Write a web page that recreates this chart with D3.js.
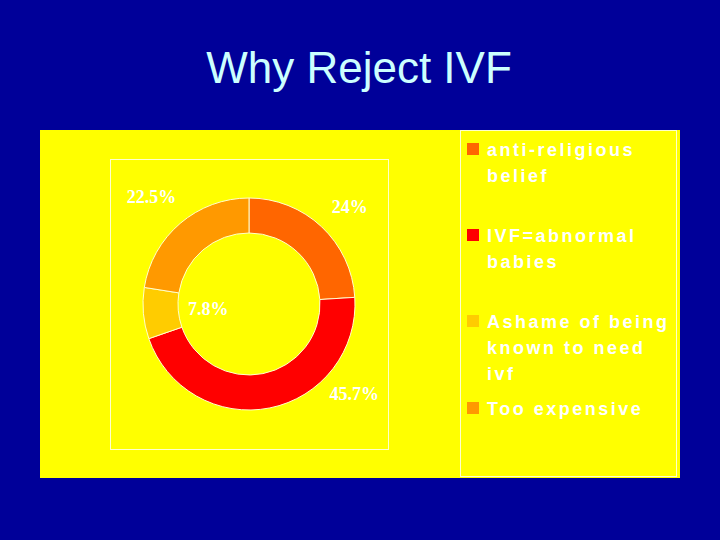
<!DOCTYPE html>
<html>
<head>
<meta charset="utf-8">
<script src="https://cdn.jsdelivr.net/npm/d3@7"></script>
<style>
  body { margin: 0; background: #000099; }
</style>
</head>
<body>
<script>
const categories = ['anti-religious belief', 'IVF=abnormal babies', 'Ashame of being known to need ivf', 'Too expensive'];
const values = [24, 45.7, 7.8, 22.5];
const valueLabels = ['24%', '45.7%', '7.8%', '22.5%'];
const legendLines = [['anti-religious', 'belief'], ['IVF=abnormal', 'babies'], ['Ashame of being', 'known to need', 'ivf'], ['Too expensive']];
const colors = ['#ff6600', '#ff0000', '#ffcc00', '#ff9900'];

const width = 720;
const height = 540;

const svg = d3.select('body')
    .append('svg')
    .attr('width', width)
    .attr('height', height)
    .style('display', 'block');

svg.append('rect')
    .attr('width', width)
    .attr('height', height)
    .attr('fill', '#000099');

svg.append('text')
    .attr('x', 359)
    .attr('y', 83)
    .attr('text-anchor', 'middle')
    .style('font-family', 'Arial, "Liberation Sans", sans-serif')
    .style('font-size', '44px')
    .style('fill', '#ccffff')
    .text('Why Reject IVF');

// yellow panel
svg.append('rect')
    .attr('x', 40).attr('y', 130)
    .attr('width', 640).attr('height', 348)
    .attr('fill', '#ffff00');

// plot frame
svg.append('rect')
    .attr('x', 110.5).attr('y', 159.5)
    .attr('width', 278).attr('height', 290)
    .attr('fill', 'none')
    .attr('stroke', '#ffffcc')
    .attr('stroke-width', 1);

// legend frame
svg.append('rect')
    .attr('x', 460.5).attr('y', 130.5)
    .attr('width', 216).attr('height', 346)
    .attr('fill', 'none')
    .attr('stroke', '#ffffcc')
    .attr('stroke-width', 1);

const cx = 249, cy = 304;
const outerR = 106, innerR = 71;

const pie = d3.pie().sort(null).value((d) => d);
const arc = d3.arc().innerRadius(innerR).outerRadius(outerR);

const g = svg.append('g')
    .attr('transform', 'translate(' + cx + ',' + cy + ')');

g.selectAll('path')
    .data(pie(values))
    .enter()
    .append('path')
    .attr('d', arc)
    .attr('fill', (d, i) => colors[i])
    .attr('stroke', '#ffffcc')
    .attr('stroke-width', 1);

// label placement: distance from centre and a shift of the slice's mid angle
const labelPos = [
    { r: 140, shift: 0.05 },
    { r: 138, shift: -0.67 },
    { r: 41, shift: -0.02 },
    { r: 145, shift: -0.03 }
];
function labelXY(d, i) {
    const a = (d.startAngle + d.endAngle) / 2 + labelPos[i].shift;
    return [Math.sin(a) * labelPos[i].r, -Math.cos(a) * labelPos[i].r];
}
g.selectAll('text.val')
    .data(pie(values))
    .enter()
    .append('text')
    .attr('class', 'val')
    .attr('x', (d, i) => labelXY(d, i)[0])
    .attr('y', (d, i) => labelXY(d, i)[1])
    .attr('text-anchor', 'middle')
    .attr('dy', '0.35em')
    .style('font-family', '"Liberation Serif", "Times New Roman", serif')
    .style('font-weight', 'bold')
    .style('font-size', '18px')
    .style('fill', '#ffffff')
    .text((d, i) => valueLabels[i]);

// legend
const legendTop = [156, 242, 328, 415];
const lg = svg.append('g');
categories.forEach((c, i) => {
    lg.append('rect')
        .attr('x', 467).attr('y', legendTop[i] - 13)
        .attr('width', 12).attr('height', 12)
        .attr('fill', colors[i]);
    legendLines[i].forEach((line, j) => {
        lg.append('text')
            .attr('x', 487)
            .attr('y', legendTop[i] + j * 26)
            .style('font-family', 'Arial, "Liberation Sans", sans-serif')
            .style('font-weight', 'bold')
            .style('font-size', '18px')
            .style('letter-spacing', '2.5px')
            .style('fill', '#ffffff')
            .text(line);
    });
});
</script>
</body>
</html>
